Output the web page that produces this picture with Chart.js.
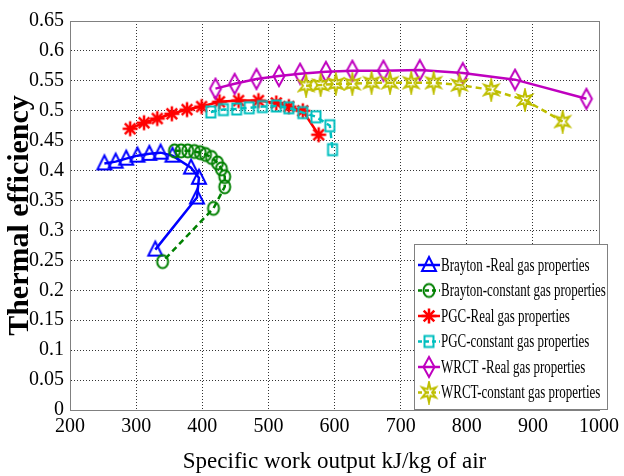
<!DOCTYPE html>
<html lang="en">
<head>
  <meta charset="UTF-8">
  <title>Thermal efficiency vs specific work</title>
  <script src="https://cdn.jsdelivr.net/npm/chart.js"></script>
  <style>
    body { margin: 0; padding: 0; background: #fff; }
    #wrap { width: 624px; height: 476px; }
  </style>
</head>
<body>
  <div id="wrap"><canvas id="grafico" width="624" height="476"></canvas></div>

  <script>
    // values
    const labels = [
      "Brayton -Real gas properties",
      "Brayton-constant gas properties",
      "PGC-Real gas properties",
      "PGC-constant gas properties",
      "WRCT -Real gas properties",
      "WRCT-constant gas properties"
    ];

    const braytonRealX = [252, 269, 285, 302, 320, 337, 355, 383, 395, 392, 329];
    const braytonRealY = [0.412, 0.415, 0.420, 0.425, 0.428, 0.430, 0.425, 0.405, 0.388, 0.355, 0.268];

    const braytonConstX = [358, 368, 378, 388, 397, 405, 414, 423, 429, 434, 434, 417, 340];
    const braytonConstY = [0.433, 0.433, 0.433, 0.432, 0.430, 0.427, 0.422, 0.413, 0.403, 0.390, 0.373, 0.337, 0.248];

    const pgcRealX = [291, 312, 332, 354, 377, 399, 426, 455, 485, 512, 531, 552, 576];
    const pgcRealY = [0.470, 0.480, 0.487, 0.495, 0.502, 0.507, 0.515, 0.517, 0.517, 0.513, 0.507, 0.500, 0.460];

    const pgcConstX = [413, 432, 452, 471, 491, 512, 531, 552, 572, 593, 597];
    const pgcConstY = [0.498, 0.502, 0.503, 0.505, 0.507, 0.508, 0.505, 0.497, 0.490, 0.475, 0.435];

    const wrctRealX = [420, 449, 482, 516, 548, 587, 627, 674, 729, 794, 873, 981];
    const wrctRealY = [0.537, 0.545, 0.553, 0.558, 0.562, 0.565, 0.567, 0.567, 0.568, 0.563, 0.552, 0.520];

    const wrctConstX = [557, 579, 602, 627, 656, 684, 716, 750, 789, 837, 888, 945];
    const wrctConstY = [0.542, 0.543, 0.545, 0.545, 0.547, 0.547, 0.547, 0.547, 0.543, 0.535, 0.518, 0.482];

    const xTicks = { min: 200, max: 1000, step: 100 };
    const yTicks = { min: 0, max: 0.65, step: 0.05 };

    // marker images (hollow, like the original)
    function marker(shape, color) {
      const c = document.createElement("canvas");
      c.width = 22; c.height = 24;
      const g = c.getContext("2d");
      const cx = 11, cy = 12;
      g.strokeStyle = color;
      g.lineWidth = 2;
      g.beginPath();
      if (shape === "triangle") {
        g.moveTo(cx, cy - 8); g.lineTo(cx + 7, cy + 6); g.lineTo(cx - 7, cy + 6); g.closePath();
      } else if (shape === "circle") {
        g.ellipse(cx, cy, 5.5, 6.5, 0, 0, Math.PI * 2);
      } else if (shape === "star") {
        g.lineWidth = 2.5;
        for (let i = 0; i < 4; i++) {
          const a = i * Math.PI / 4;
          g.moveTo(cx - 7.5 * Math.cos(a), cy - 7.5 * Math.sin(a));
          g.lineTo(cx + 7.5 * Math.cos(a), cy + 7.5 * Math.sin(a));
        }
      } else if (shape === "square") {
        g.rect(cx - 4.5, cy - 5.5, 9, 11);
      } else if (shape === "diamond") {
        g.moveTo(cx, cy - 10); g.lineTo(cx + 5.5, cy); g.lineTo(cx, cy + 10); g.lineTo(cx - 5.5, cy); g.closePath();
      } else if (shape === "hexagram") {
        for (let i = 0; i < 12; i++) {
          const a = -Math.PI / 2 + i * Math.PI / 6;
          const r = i % 2 === 0 ? 10 : 3.8;
          const px = cx + r * Math.cos(a) * 0.8, py = cy + r * Math.sin(a);
          if (i === 0) g.moveTo(px, py); else g.lineTo(px, py);
        }
        g.closePath();
      }
      g.stroke();
      return c;
    }

    const estilos = [
      { color: "#0000ff", shape: "triangle", dash: [] },
      { color: "#008000", shape: "circle", dash: [6, 4] },
      { color: "#ff0000", shape: "star", dash: [] },
      { color: "#00bfbf", shape: "square", dash: [6, 4] },
      { color: "#bf00bf", shape: "diamond", dash: [] },
      { color: "#bfbf00", shape: "hexagram", dash: [6, 4] }
    ];
    estilos.forEach(e => e.img = marker(e.shape, e.color));

    const series = [
      [braytonRealX, braytonRealY],
      [braytonConstX, braytonConstY],
      [pgcRealX, pgcRealY],
      [pgcConstX, pgcConstY],
      [wrctRealX, wrctRealY],
      [wrctConstX, wrctConstY]
    ];

    const datasets = series.map((s, i) => ({
      label: labels[i],
      data: s[0].map((x, k) => ({ x: x, y: s[1][k] })),
      showLine: true,
      borderColor: estilos[i].color,
      backgroundColor: estilos[i].color,
      borderWidth: 2.5,
      borderDash: estilos[i].dash,
      pointStyle: estilos[i].img,
      pointRadius: 6,
      order: 6 - i
    }));

    const serif = "'Liberation Serif', 'Times New Roman', serif";

    // box around the plot + legend inside the axes
    const moldura = {
      id: "moldura",
      afterDraw(chart) {
        const ctx = chart.ctx;
        const a = chart.chartArea;
        ctx.save();
        ctx.strokeStyle = "#808080";
        ctx.lineWidth = 1;
        ctx.setLineDash([]);
        ctx.strokeRect(a.left + 0.5, a.top + 0.5, a.right - a.left, a.bottom - a.top);

        // legend
        const bx = 414, by = 244, bw = 193, bh = 165;
        ctx.fillStyle = "#fff";
        ctx.fillRect(bx, by, bw, bh);
        ctx.strokeRect(bx + 0.5, by + 0.5, bw, bh);
        ctx.font = "18px " + serif;
        ctx.textBaseline = "middle";
        labels.forEach((txt, i) => {
          const y = by + 21 + i * 25.5;
          const e = estilos[i];
          ctx.strokeStyle = e.color;
          ctx.lineWidth = 2.5;
          ctx.setLineDash(e.dash.length ? [4, 3] : []);
          ctx.beginPath();
          ctx.moveTo(bx + 4, y);
          ctx.lineTo(bx + 26, y);
          ctx.stroke();
          ctx.setLineDash([]);
          ctx.drawImage(e.img, bx + 15 - e.img.width / 2, y - e.img.height / 2);
          ctx.save();
          ctx.translate(bx + 27, y + 1);
          ctx.scale(0.72, 1);
          ctx.fillStyle = "#000";
          ctx.fillText(txt, 0, 0);
          ctx.restore();
        });
        ctx.restore();
      }
    };

    new Chart(document.getElementById("grafico").getContext("2d"), {
      type: "scatter",
      data: { datasets: datasets },
      plugins: [moldura],
      options: {
        responsive: false,
        animation: false,
        layout: { padding: { left: 2, right: 21, top: 21, bottom: 0 } },
        plugins: {
          legend: { display: false },
          tooltip: { enabled: false }
        },
        scales: {
          x: {
            type: "linear",
            min: xTicks.min,
            max: xTicks.max,
            ticks: {
              stepSize: xTicks.step,
              color: "#000",
              padding: 5,
              font: { family: serif, size: 20 },
              callback: v => String(v)
            },
            grid: {
              color: "#333",
              drawTicks: false
            },
            border: { display: true, color: "#808080", dash: [1, 2] },
            title: {
              display: true,
              text: "Specific work output kJ/kg of air",
              color: "#000",
              padding: { top: 0, bottom: 0 },
              font: { family: serif, size: 23 }
            },
            afterFit(scale) { scale.height = 66; }
          },
          y: {
            min: yTicks.min,
            max: yTicks.max,
            ticks: {
              stepSize: yTicks.step,
              color: "#000",
              padding: 6,
              font: { family: serif, size: 20 },
              callback: v => String(Number(v.toFixed(2)))
            },
            grid: {
              color: "#333",
              drawTicks: false
            },
            border: { display: true, color: "#808080", dash: [1, 2] },
            title: {
              display: true,
              text: "Thermal efficiency",
              color: "#000",
              padding: { top: 0, bottom: 0 },
              font: { family: serif, size: 30, weight: "bold" }
            },
            afterFit(scale) { scale.width = 68; }
          }
        }
      }
    });
  </script>
</body>
</html>
